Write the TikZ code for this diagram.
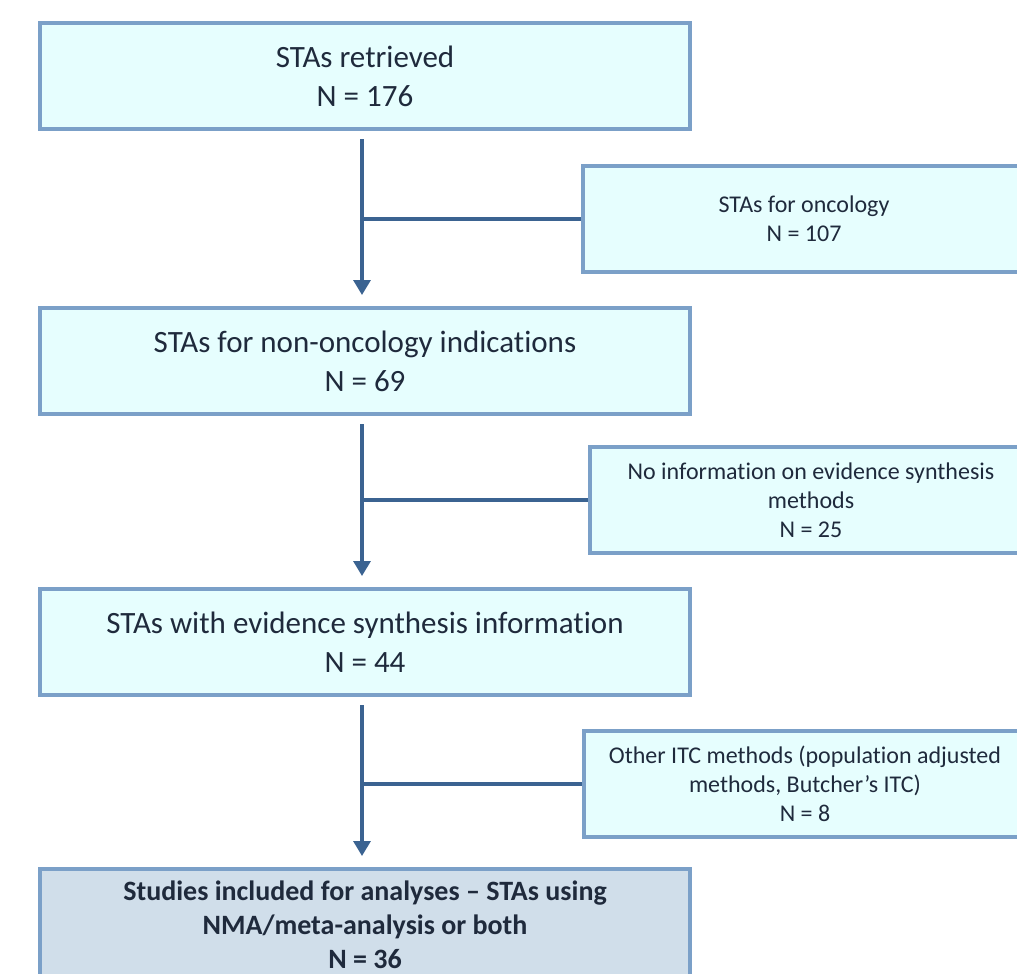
\documentclass[tikz,border=0pt]{standalone}
\usepackage{fontspec}
\setmainfont{Carlito}[Ligatures={NoCommon}]
\usetikzlibrary{arrows.meta}
\definecolor{boxline}{HTML}{7BA0C8}
\definecolor{boxfill}{HTML}{E6FEFE}
\definecolor{inclfill}{HTML}{D0DEEA}
\definecolor{flowline}{HTML}{3B6391}
\definecolor{txt}{HTML}{1F2A3C}
\begin{document}
\begin{tikzpicture}[x=1pt, y=-1pt,
    mainbox/.style={draw=boxline, line width=4pt, fill=boxfill, text=txt,
      minimum width=650pt, minimum height=106pt, align=center,
      font=\fontsize{31}{39}\selectfont},
    sidebox/.style={draw=boxline, line width=4pt, fill=boxfill, text=txt,
      minimum width=442pt, minimum height=106pt, align=center,
      font=\fontsize{24}{29}\selectfont},
    inclbox/.style={mainbox, fill=inclfill, minimum height=112pt,
      font=\fontsize{28}{34}\selectfont\bfseries},
    flow/.style={draw=flowline, line width=3.2pt},
    flowarr/.style={flow, -{Triangle[width=17pt,length=15pt]}}]
  \clip (0,0) rectangle (1017,974);
  \fill[white] (0,0) rectangle (1017,974);
  % main boxes
  \node[mainbox] (ret) at (365,76) {STAs retrieved\\N = 176};
  \node[mainbox] (nonc) at (365,361) {STAs for non-oncology indications\\N = 69};
  \node[mainbox] (evid) at (365,642) {STAs with evidence synthesis information\\N = 44};
  \node[inclbox] (incl) at (365,925) {Studies included for analyses -- STAs using\\NMA/meta-analysis or both\\N = 36};
  % excluded
  \node[sidebox] (onc) at (804,219) {STAs for oncology\\N = 107};
  \node[sidebox] (noinfo) at (811,500) {No information on evidence synthesis\\methods\\N = 25};
  \node[sidebox] (other) at (805,784) {Other ITC methods (population adjusted\\methods, Butcher’s ITC)\\N = 8};
  % arrows
  \draw[flowarr] ([xshift=-3pt,yshift=-8pt]ret.south) -- ([xshift=-3pt,yshift=11pt]nonc.north);
  \draw[flowarr] ([xshift=-3pt,yshift=-8pt]nonc.south) -- ([xshift=-3pt,yshift=11pt]evid.north);
  \draw[flowarr] ([xshift=-3pt,yshift=-8pt]evid.south) -- ([xshift=-3pt,yshift=11pt]incl.north);
  \coordinate (j1) at ([xshift=-3pt]ret.south |- onc.west);
  \coordinate (j2) at ([xshift=-3pt]nonc.south |- noinfo.west);
  \coordinate (j3) at ([xshift=-3pt]evid.south |- other.west);
  \draw[flow] (j1) -- (onc.west);
  \draw[flow] (j2) -- (noinfo.west);
  \draw[flow] (j3) -- (other.west);
\end{tikzpicture}
\end{document}
